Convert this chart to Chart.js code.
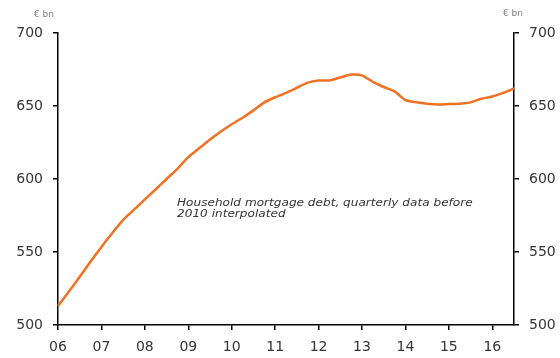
<!DOCTYPE html>
<html>
<head>
<meta charset="utf-8">
<script src="https://cdn.jsdelivr.net/npm/chart.js@4"></script>
<style>
html,body{margin:0;padding:0;background:#fff;}
#wrap{width:560px;height:358px;position:relative;}
</style>
</head>
<body>
<div id="wrap"><canvas id="c" width="560" height="358"></canvas></div>
<script>
// Quarterly categories (2006 Q1 .. 2016 Q3)
const categories = [
 '06Q1','06Q2','06Q3','06Q4','07Q1','07Q2','07Q3','07Q4',
 '08Q1','08Q2','08Q3','08Q4','09Q1','09Q2','09Q3','09Q4',
 '10Q1','10Q2','10Q3','10Q4','11Q1','11Q2','11Q3','11Q4',
 '12Q1','12Q2','12Q3','12Q4','13Q1','13Q2','13Q3','13Q4',
 '14Q1','14Q2','14Q3','14Q4','15Q1','15Q2','15Q3','15Q4',
 '16Q1','16Q2','16Q3'
];
// Household mortgage debt, EUR bn
const mortgageDebt = [
 513,523,533,543.5,553.5,563,572,579,
 586,593,600,607,615,621,627,632.5,
 637.5,642,647,652.5,656,659,662.5,666,
 667.5,667.5,669.5,671.5,671,666.5,663,660,
 654,652.5,651.5,651,651.3,651.5,652.5,655,
 656.5,659,662
];
// Year tick labels shown at each Q1
const yearTickLabels = ['06','07','08','09','10','11','12','13','14','15','16'];
const yMin = 500, yMax = 700, yStep = 50;
const unitLabel = '\u20AC bn';
const noteLines = ['Household mortgage debt, quarterly data before', '2010 interpolated'];

const tickFont = {family: 'DejaVu Sans, Verdana, sans-serif', size: 14};
const textColor = '#353535';

const overlay = {
  id: 'overlay',
  afterDraw(chart) {
    const ctx = chart.ctx;
    const a = chart.chartArea;
    ctx.save();
    ctx.fillStyle = '#808080';
    ctx.font = '9px DejaVu Sans, Verdana, sans-serif';
    ctx.textBaseline = 'middle';
    ctx.textAlign = 'center';
    ctx.fillText(unitLabel, a.left - 14, 15);
    ctx.fillText(unitLabel, a.right - 1, 14);
    ctx.restore();
    ctx.save();
    ctx.fillStyle = '#333';
    ctx.font = 'italic 11px DejaVu Sans, Verdana, sans-serif';
    ctx.textBaseline = 'middle';
    ctx.textAlign = 'left';
    const x0 = a.left + 119;
    ctx.translate(x0, 0);
    ctx.scale(1.1, 1);
    ctx.fillText(noteLines[0], 0, 203);
    ctx.fillText(noteLines[1], 0, 214);
    ctx.restore();
  }
};

new Chart(document.getElementById('c'), {
  type: 'line',
  data: {
    labels: categories,
    datasets: [{
      data: mortgageDebt,
      borderColor: '#F07122',
      borderWidth: 2.5,
      pointRadius: 0,
      tension: 0.2,
      fill: false,
      yAxisID: 'y'
    }]
  },
  options: {
    responsive: false,
    animation: false,
    devicePixelRatio: 1,
    layout: {padding: {top: 33, bottom: 0, left: 0, right: 0}},
    plugins: {legend: {display: false}, tooltip: {enabled: false}},
    scales: {
      x: {
        type: 'category',
        offset: false,
        grid: {display: true, drawOnChartArea: false, drawTicks: true, tickLength: 5, color: '#000', lineWidth: 1.5},
        border: {display: true, color: '#000', width: 1.5},
        ticks: {
          autoSkip: false, maxRotation: 0, padding: 9,
          color: textColor, font: tickFont,
          callback: function(v, i) {
            return (i % 4 === 0) ? yearTickLabels[i / 4] : null;
          }
        },
        afterFit(s) { s.height = 33; }
      },
      y: {
        position: 'left',
        min: yMin, max: yMax,
        grid: {display: true, drawOnChartArea: false, drawTicks: true, tickLength: 5, color: '#000', lineWidth: 1.5},
        border: {display: true, color: '#000', width: 1.5},
        ticks: {stepSize: yStep, padding: 10, color: textColor, font: tickFont},
        afterFit(s) { s.width = 58; }
      },
      y2: {
        position: 'right',
        display: true,
        min: yMin, max: yMax,
        grid: {display: true, drawOnChartArea: false, drawTicks: true, tickLength: 5, color: '#000', lineWidth: 1.5},
        border: {display: true, color: '#000', width: 1.5},
        ticks: {stepSize: yStep, padding: 10, color: textColor, font: tickFont},
        afterFit(s) { s.width = 46; }
      }
    }
  },
  plugins: [overlay]
});
</script>
</body>
</html>
